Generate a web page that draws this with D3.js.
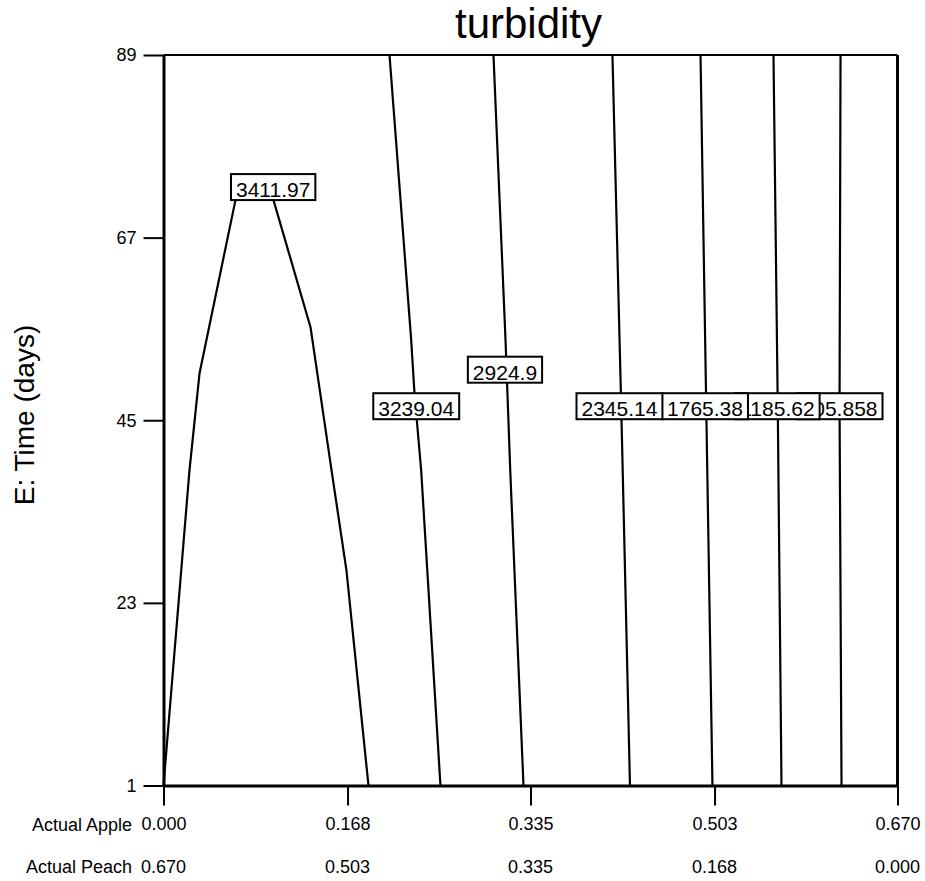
<!DOCTYPE html>
<html lang="en">
<head>
    <meta charset="UTF-8">
    <title>turbidity contour</title>
    <script src="https://cdn.jsdelivr.net/npm/d3@7/dist/d3.min.js"></script>
    <style>
        body { margin: 0; background: #fff; }
        text { font-family: "Liberation Sans", Arial, sans-serif; fill: #000; }
    </style>
</head>
<body>
<div id="container"></div>

<script>
// tick labels
let appleTicks = [0.000, 0.168, 0.335, 0.503, 0.670];
let appleTickLabels = ["0.000", "0.168", "0.335", "0.503", "0.670"];
let peachTickLabels = ["0.670", "0.503", "0.335", "0.168", "0.000"];
let dayTicks = [1, 23, 45, 67, 89];

// contour levels
let levels = ["3411.97", "3239.04", "2924.9", "2345.14", "1765.38", "1185.62", "605.858"];

// apple value / days for each contour line
let contourApple = [
    [0.0000, 0.0237, 0.0329, 0.0657, 0.0749, 0.0913, 0.1004, 0.1342, 0.1534, 0.1670, 0.1871],
    [0.2063, 0.2261, 0.2291, 0.2352, 0.2528],
    [0.3012, 0.3122, 0.3165, 0.3286],
    [0.4098, 0.4178, 0.4258],
    [0.4902, 0.4954, 0.5011],
    [0.5568, 0.5607, 0.5641],
    [0.6180, 0.6171, 0.6189]
];
let contourDays = [
    [1, 38.97, 50.67, 71.52, 73.93, 73.93, 71.52, 56.21, 38.97, 26.92, 1],
    [89, 54.64, 48.25, 38.97, 1],
    [89, 54.64, 38.97, 1],
    [89, 46.69, 1],
    [89, 46.69, 1],
    [89, 46.69, 1],
    [89, 46.69, 1]
];

// where each level label sits
let labelApple = [0.1001, 0.2307, 0.3117, 0.4162, 0.4943, 0.5604, 0.6171];
let labelDays = [73.09, 46.69, 51.09, 46.69, 46.69, 46.69, 46.69];
// drawing order of the label boxes (later ones cover earlier ones)
let labelOrder = [0, 1, 2, 6, 5, 4, 3];

let width = 925;
let height = 881;
let mLeft = 163.5, mRight = 897.5, mTop = 55, mBottom = 785.5;

let svg = d3.select('#container')
    .append('svg')
    .attr('width', width)
    .attr('height', height)
    .style('background-color', '#ffffff');

let x = d3.scaleLinear()
    .domain([0, 0.67])
    .range([mLeft, mRight]);

let y = d3.scaleLinear()
    .domain([1, 89])
    .range([mBottom, mTop]);

// contour lines
let line = d3.line()
    .x(function(d) { return x(d[0]); })
    .y(function(d) { return y(d[1]); });

contourApple.forEach(function(xs, i) {
    let pts = xs.map(function(a, j) { return [a, contourDays[i][j]]; });
    svg.append("path")
        .datum(pts)
        .attr("d", line)
        .attr("fill", "none")
        .attr("stroke", "#000")
        .attr("stroke-width", 2.2)
        .attr("stroke-linejoin", "round");
});

// frame
svg.append("line").attr("x1", mLeft).attr("x2", mRight).attr("y1", mTop).attr("y2", mTop)
    .attr("stroke", "#000").attr("stroke-width", 2);
svg.append("line").attr("x1", mRight).attr("x2", mRight).attr("y1", mTop).attr("y2", mBottom)
    .attr("stroke", "#000").attr("stroke-width", 3);

// y axis
let yAxis = d3.axisLeft(y)
    .tickValues(dayTicks)
    .tickSize(20)
    .tickPadding(7)
    .tickSizeOuter(0);
let gy = svg.append("g")
    .attr("transform", "translate(" + mLeft + ",0)")
    .call(yAxis);
gy.select(".domain").attr("stroke", "#000").attr("stroke-width", 3);
gy.selectAll(".tick line").attr("stroke", "#000").attr("stroke-width", 2);
gy.selectAll(".tick text")
    .style("font-size", "18px")
    .attr("font-family", null);

// x axis (apple)
let xAxis = d3.axisBottom(x)
    .tickValues(appleTicks)
    .tickSize(20)
    .tickPadding(12)
    .tickSizeOuter(0)
    .tickFormat(function(d, i) { return appleTickLabels[i]; });
let gx = svg.append("g")
    .attr("transform", "translate(0," + mBottom + ")")
    .call(xAxis);
gx.select(".domain").attr("stroke", "#000").attr("stroke-width", 3);
gx.selectAll(".tick line").attr("stroke", "#000").attr("stroke-width", 2);
gx.selectAll(".tick text")
    .style("font-size", "18px")
    .attr("font-family", null);

// second row of labels (peach)
svg.append("g")
    .selectAll("text")
    .data(peachTickLabels)
    .enter()
    .append("text")
    .attr("x", function(d, i) { return x(appleTicks[i]); })
    .attr("y", 872.5)
    .attr("text-anchor", "middle")
    .style("font-size", "18px")
    .text(function(d) { return d; });

svg.append("text")
    .attr("x", 132)
    .attr("y", 830.5)
    .attr("text-anchor", "end")
    .style("font-size", "18px")
    .text("Actual Apple");
svg.append("text")
    .attr("x", 132)
    .attr("y", 872.5)
    .attr("text-anchor", "end")
    .style("font-size", "18px")
    .text("Actual Peach");

// y axis title
svg.append("text")
    .attr("transform", "translate(34,415) rotate(-90)")
    .attr("text-anchor", "middle")
    .style("font-size", "28px")
    .text("E: Time (days)");

// chart title
svg.append("text")
    .attr("x", (mLeft + mRight) / 2 - 2)
    .attr("y", 38)
    .attr("text-anchor", "middle")
    .style("font-size", "42px")
    .text("turbidity");

// level labels in boxes
labelOrder.forEach(function(i) {
    let cx = x(labelApple[i]);
    let cy = y(labelDays[i]);
    let g = svg.append("g");
    let rect = g.append("rect")
        .attr("fill", "#fff")
        .attr("stroke", "#000")
        .attr("stroke-width", 2);
    let t = g.append("text")
        .attr("x", cx)
        .attr("y", cy + 10)
        .attr("text-anchor", "middle")
        .style("font-size", "21px")
        .text(levels[i]);
    let w = t.node().getComputedTextLength() + 10;
    rect.attr("x", cx - w / 2)
        .attr("y", cy - 13)
        .attr("width", w)
        .attr("height", 26);
});
</script>
</body>
</html>
